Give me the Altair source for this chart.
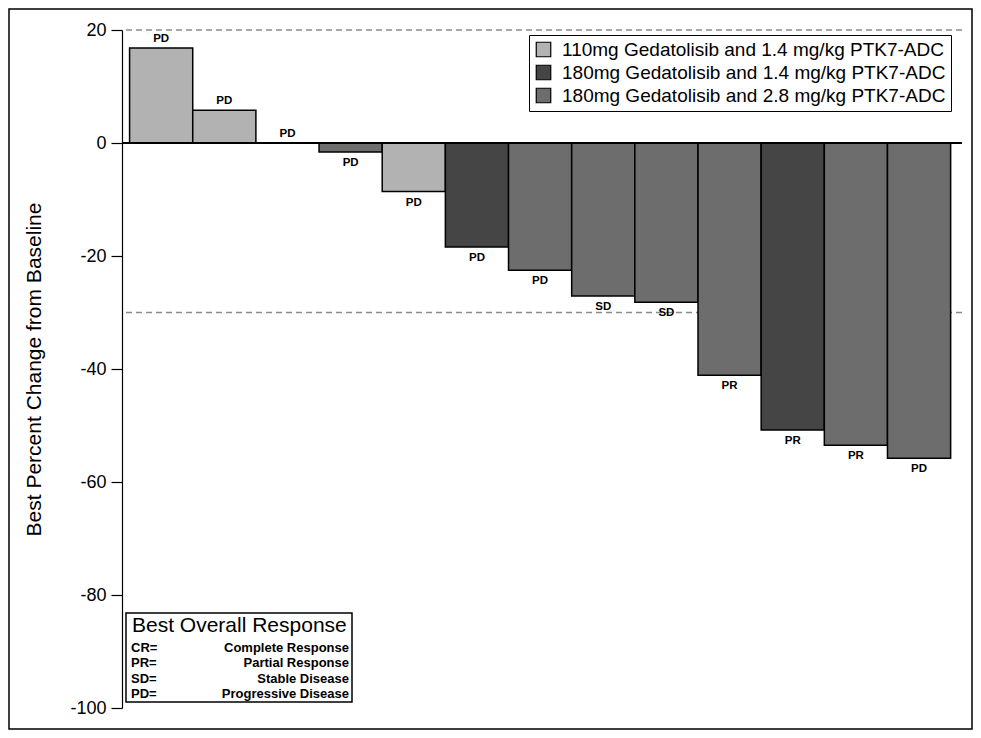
import altair as alt
import pandas as pd

# ---- data ----
patients = list(range(1, 14))
changes = [16.8, 5.8, 0.0, -1.6, -8.6, -18.4, -22.5, -27.1, -28.2, -41.1, -50.8, -53.5, -55.8]
cohort_names = [
    "110mg Gedatolisib and 1.4 mg/kg PTK7-ADC",
    "180mg Gedatolisib and 1.4 mg/kg PTK7-ADC",
    "180mg Gedatolisib and 2.8 mg/kg PTK7-ADC",
]
cohort_idx = [0, 0, 0, 2, 0, 1, 2, 2, 2, 2, 1, 2, 2]
responses = ["PD", "PD", "PD", "PD", "PD", "PD", "PD", "SD", "SD", "PR", "PR", "PR", "PD"]
cohort_colors = ["#b2b2b2", "#454545", "#6d6d6d"]
ref_lines = [20, -30]
y_ticks = [-100, -80, -60, -40, -20, 0, 20]
resp_codes = ["CR=", "PR=", "SD=", "PD="]
resp_names = ["Complete Response", "Partial Response", "Stable Disease", "Progressive Disease"]
resp_title = "Best Overall Response"
y_title = "Best Percent Change from Baseline"

FONT = "Liberation Sans"
W, H = 840, 678

df = pd.DataFrame({
    "patient": patients,
    "change": changes,
    "cohort": [cohort_names[i] for i in cohort_idx],
    "response": responses,
})

x_enc = alt.X("patient:O", axis=None,
              scale=alt.Scale(paddingInner=0, paddingOuter=0.15, align=0.4))
y_scale = alt.Scale(domain=[-100, 20], nice=False, zero=False)

bars = alt.Chart(df).mark_bar(stroke="black", strokeWidth=1.5, opacity=1).encode(
    x=x_enc,
    y=alt.Y("change:Q", scale=y_scale,
            axis=alt.Axis(values=y_ticks, title=y_title, grid=False,
                          labelExpr="datum.value + ''",
                          labelFontSize=18, labelFont=FONT, labelColor="black",
                          labelPadding=5, tickSize=11, tickColor="black",
                          tickWidth=1.2, domainColor="black", domainWidth=1.2,
                          titleFont=FONT, titleFontSize=21, titleFontWeight="normal",
                          titleColor="black", titlePadding=25)),
    y2=alt.datum(0),
    fill=alt.Fill("cohort:N", scale=alt.Scale(domain=cohort_names, range=cohort_colors),
                  legend=alt.Legend(orient="none", legendX=407, legendY=5, title=None,
                                    strokeColor="black", fillColor="white", padding=5,
                                    symbolType="square", symbolSize=210,
                                    symbolStrokeColor="black", symbolStrokeWidth=1.2,
                                    symbolOpacity=1, labelFont=FONT, labelFontSize=19,
                                    labelColor="black", labelOffset=9, rowPadding=2,
                                    labelLimit=500)),
)

refs = alt.Chart(pd.DataFrame({"y": ref_lines})).mark_rule(
    color="#8a8a8a", strokeDash=[6, 4], strokeWidth=1.3
).encode(y=alt.Y("y:Q", scale=y_scale))

zero = alt.Chart(pd.DataFrame({"y": [0]})).mark_rule(
    color="black", strokeWidth=2
).encode(y=alt.Y("y:Q", scale=y_scale))

lab_pos = alt.Chart(df).transform_filter("datum.change >= 0").mark_text(
    baseline="bottom", dy=-4, fontSize=11.5, fontWeight="bold", font=FONT, color="black"
).encode(x=x_enc, y=alt.Y("change:Q", scale=y_scale), text="response:N")

lab_neg = alt.Chart(df).transform_filter("datum.change < 0").mark_text(
    baseline="top", dy=5, fontSize=11.5, fontWeight="bold", font=FONT, color="black"
).encode(x=x_enc, y=alt.Y("change:Q", scale=y_scale), text="response:N")

one = pd.DataFrame({"k": [0]})

box = alt.Chart(one).mark_rect(fill="white", stroke="black", strokeWidth=1.5).encode(
    x=alt.value(4), x2=alt.value(230), y=alt.value(583), y2=alt.value(672)
)

box_title = alt.Chart(pd.DataFrame({"t": [resp_title]})).mark_text(
    align="left", baseline="middle", fontSize=21, font=FONT, color="black"
).encode(x=alt.value(10), y=alt.value(596), text="t:N")

codes_txt = alt.Chart(pd.DataFrame({"t": ["\n".join(resp_codes)]})).mark_text(
    align="left", baseline="middle", fontSize=13, fontWeight="bold", font=FONT,
    color="black", lineBreak="\n", lineHeight=15.4
).encode(x=alt.value(9), y=alt.value(618), text="t:N")

names_txt = alt.Chart(pd.DataFrame({"t": ["\n".join(resp_names)]})).mark_text(
    align="right", baseline="middle", fontSize=13, fontWeight="bold", font=FONT,
    color="black", lineBreak="\n", lineHeight=15.4
).encode(x=alt.value(227), y=alt.value(618), text="t:N")

border = alt.Chart(one).mark_rect(fill=None, stroke="black", strokeWidth=1.5).encode(
    x=alt.value(-113), x2=alt.value(850), y=alt.value(-21), y2=alt.value(699)
)

chart = alt.layer(
    refs, bars, zero, lab_pos, lab_neg, box, box_title, codes_txt, names_txt, border
).properties(
    width=W, height=H,
    padding={"left": 114, "top": 22, "right": 11, "bottom": 22},
    autosize=alt.AutoSizeParams(type="none"),
    background="white",
).configure_view(stroke=None)

chart.save("out.html", embed_options={"renderer": "svg", "actions": False})
